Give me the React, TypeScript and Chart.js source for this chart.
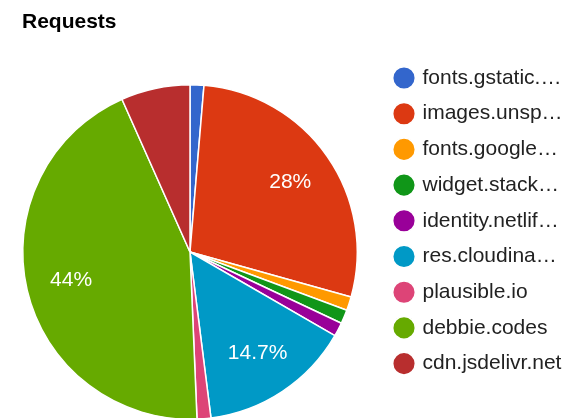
import React, { useEffect, useRef } from 'react';
import { Chart, registerables } from 'chart.js';

Chart.register(...registerables);

const TITLE = 'Requests';
const LABELS = [
  'fonts.gstatic.…',
  'images.unsp…',
  'fonts.google…',
  'widget.stack…',
  'identity.netlif…',
  'res.cloudina…',
  'plausible.io',
  'debbie.codes',
  'cdn.jsdelivr.net',
];
const VALUES = [1, 21, 1, 1, 1, 11, 1, 33, 5];
const COLORS = ['#3366CC', '#DC3912', '#FF9900', '#109618', '#990099', '#0099C6', '#DD4477', '#66AA00', '#B82E2E'];

const FONT = "Arial, 'Liberation Sans', Helvetica, sans-serif";
const LEGEND_W = 215;
const LEGEND_SHIFT = 23.3;

const sliceLabels = {
  id: 'sliceLabels',
  afterDatasetsDraw(chart: any) {
    const meta = chart.getDatasetMeta(0);
    const data = chart.data.datasets[0].data as number[];
    const total = data.reduce((a, b) => a + b, 0);
    const ctx = chart.ctx;
    ctx.save();
    ctx.font = `21px ${FONT}`;
    ctx.fillStyle = '#ffffff';
    ctx.textAlign = 'center';
    ctx.textBaseline = 'middle';
    meta.data.forEach((arc: any, i: number) => {
      const pct = (data[i] / total) * 100;
      if (pct < 10) return;
      const { x, y, startAngle, endAngle, outerRadius } = arc.getProps(
        ['x', 'y', 'startAngle', 'endAngle', 'outerRadius'],
        true
      );
      const mid = (startAngle + endAngle) / 2;
      const r = outerRadius * 0.73;
      ctx.fillText(`${parseFloat(pct.toFixed(1))}%`, x + Math.cos(mid) * r, y + Math.sin(mid) * r);
    });
    ctx.restore();
  },
};

const legendPlacement = {
  id: 'legendPlacement',
  beforeLayout(chart: any) {
    const lg: any = chart.legend;
    if (lg && !lg.__patched) {
      const fit = lg.fit.bind(lg);
      lg.fit = function () {
        fit();
        this.width = LEGEND_W;
      };
      lg.__patched = true;
    }
  },
  afterLayout(chart: any) {
    const lg: any = chart.legend;
    if (lg) {
      lg.left += LEGEND_SHIFT;
      lg.right += LEGEND_SHIFT;
    }
  },
};

export default function App() {
  const ref = useRef<HTMLCanvasElement | null>(null);

  useEffect(() => {
    if (!ref.current) return;
    const chart = new Chart(ref.current, {
      type: 'pie',
      data: {
        labels: LABELS,
        datasets: [
          {
            data: VALUES,
            backgroundColor: COLORS,
            borderColor: '#ffffff',
            borderWidth: 1.5,
          },
        ],
      },
      options: {
        animation: false,
        responsive: false,
        layout: { padding: { left: 22, right: 0, top: 0, bottom: 8.8 } },
        plugins: {
          title: {
            display: true,
            text: TITLE,
            align: 'start',
            color: '#000000',
            font: { family: FONT, size: 21, weight: 'bold', lineHeight: 1.2 },
            padding: { top: 10.1, bottom: 17.5 },
          },
          legend: {
            position: 'right',
            align: 'start',
            fullSize: false,
            labels: {
              usePointStyle: true,
              pointStyle: 'circle',
              boxWidth: 16,
              boxHeight: 16,
              padding: 14.7,
              color: '#222222',
              font: { family: FONT, size: 21 },
            },
          },
          tooltip: { enabled: false },
        },
      } as any,
      plugins: [sliceLabels, legendPlacement],
    });
    return () => chart.destroy();
  }, []);

  return (
    <div
      style={{
        position: 'absolute',
        left: 0,
        top: 0,
        width: 573,
        height: 418,
        overflow: 'hidden',
        background: '#ffffff',
      }}
    >
      <canvas ref={ref} width={573} height={460} style={{ display: 'block' }} />
    </div>
  );
}
